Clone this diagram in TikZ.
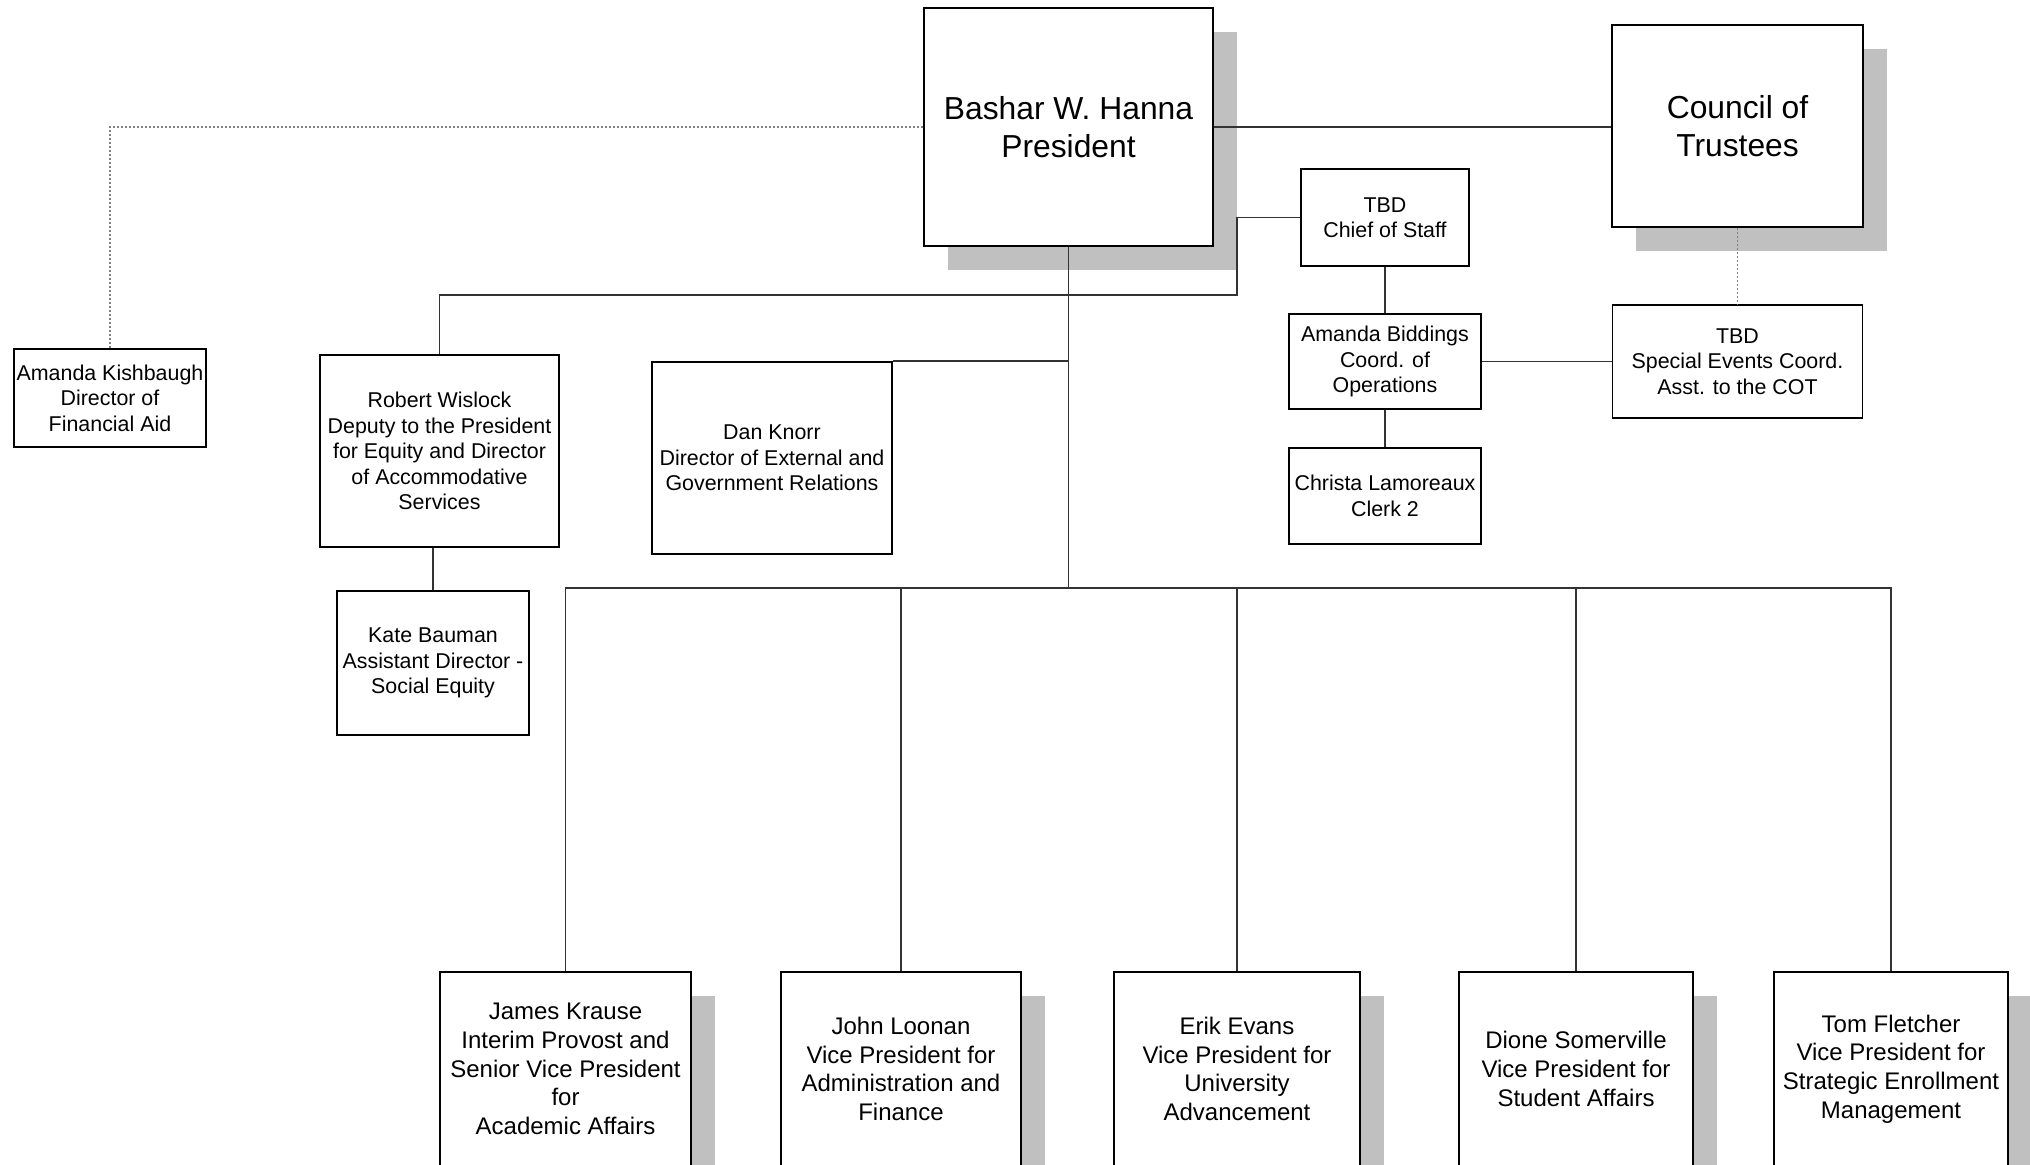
\documentclass[tikz,border=0pt]{standalone}
\usepackage{fontspec}
\setmainfont{Liberation Sans}
\usetikzlibrary{shadows}
\definecolor{shadowgray}{HTML}{C0C0C0}
\definecolor{linkgray}{HTML}{333333}
\newcommand{\unitpx}{0.5pt}
\tikzset{
  orgbox/.style 2 args={draw=black,line width=0.9pt,fill=white,inner sep=0pt,align=center,
    minimum width=#1*\unitpx,minimum height=#2*\unitpx,font=\fontsize{10.7}{12.75}\selectfont},
  vpbox/.style 2 args={orgbox={#1}{#2},font=\fontsize{12}{14.35}\selectfont,
    drop shadow={shadow xshift=12pt,shadow yshift=-12pt,fill=shadowgray,opacity=1}},
  topbox/.style 2 args={vpbox={#1}{#2},font=\fontsize{15.9}{19}\selectfont},
  link/.style={linkgray,line width=0.6pt},
  dotlink/.style={gray,line width=0.6pt,dash pattern=on 1pt off 1pt}
}

\begin{document}
\begin{tikzpicture}[x=\unitpx,y=-\unitpx]
  \useasboundingbox (0,0) rectangle (2030,1165);
  \clip (0,0) rectangle (2030,1165);
  % top level
  \node[topbox={289}{238}] (President) at (1068.5,127) {Bashar W. Hanna\\President};
  \node[topbox={251}{202}] (Council) at (1737.5,126) {Council of\\Trustees};
  % staff around the president
  \node[orgbox={192}{98}] (Kishbaugh) at (110,398) {Amanda Kishbaugh\\Director of\\Financial Aid};
  \node[orgbox={239}{192}] (Wislock) at (439.5,451) {Robert Wislock\\Deputy to the President\\for Equity and Director\\of Accommodative\\Services};
  \node[orgbox={192}{144}] (Bauman) at (433,663) {Kate Bauman\\Assistant Director -\\Social Equity};
  \node[orgbox={240}{192}] (Knorr) at (772,458) {Dan Knorr\\Director of External and\\Government Relations};
  \node[orgbox={168}{97}] (ChiefStaff) at (1385,217.5) {TBD\\Chief of Staff};
  \node[orgbox={192}{95}] (Biddings) at (1385,361.5) {Amanda Biddings\\Coord. of\\Operations};
  \node[orgbox={192}{96}] (Lamoreaux) at (1385,496) {Christa Lamoreaux\\Clerk 2};
  \node[orgbox={250}{113}] (SpecialEvents) at (1737.5,361.5) {TBD\\Special Events Coord.\\Asst. to the COT};
  % vice presidents
  \node[vpbox={251}{194}] (Krause) at (565.5,1069) {James Krause\\Interim Provost and\\Senior Vice President\\for\\Academic Affairs};
  \node[vpbox={240}{194}] (Loonan) at (901,1069) {John Loonan\\Vice President for\\Administration and\\Finance};
  \node[vpbox={246}{194}] (Evans) at (1237,1069) {Erik Evans\\Vice President for\\University\\Advancement};
  \node[vpbox={234}{194}] (Somerville) at (1576,1069) {Dione Somerville\\Vice President for\\Student Affairs};
  \node[vpbox={234}{194}] (Fletcher) at (1891,1069) {Tom Fletcher\\Vice President for\\Strategic Enrollment\\Management};
  % connectors
  \coordinate (bus) at (1068.5,588);
  \coordinate (staffturn) at (1237,295);
  \draw[link] (President.east) -- (President.east -| Council.west);
  \draw[dotlink] (President.west) -| (Kishbaugh.north);
  \draw[link] (ChiefStaff.west) -| (staffturn) -| (Wislock.north);
  \draw[link] (Wislock.south -| Bauman.north) -- (Bauman.north);
  \draw[link] (President.south) -- (bus);
  \draw[link] (Knorr.north east) -- (Knorr.north east -| bus);
  \draw[link] (Krause.north) |- (bus) -| (Fletcher.north);
  \foreach \vp in {Loonan,Evans,Somerville}
    \draw[link] (\vp.north) -- (\vp.north |- bus);
  \draw[link] (ChiefStaff.south) -- (Biddings.north);
  \draw[link] (Biddings.south) -- (Lamoreaux.north);
  \draw[link] (Biddings.east) -- (SpecialEvents.west);
  \draw[dotlink] (Council.south) -- (SpecialEvents.north);
\end{tikzpicture}
\end{document}
